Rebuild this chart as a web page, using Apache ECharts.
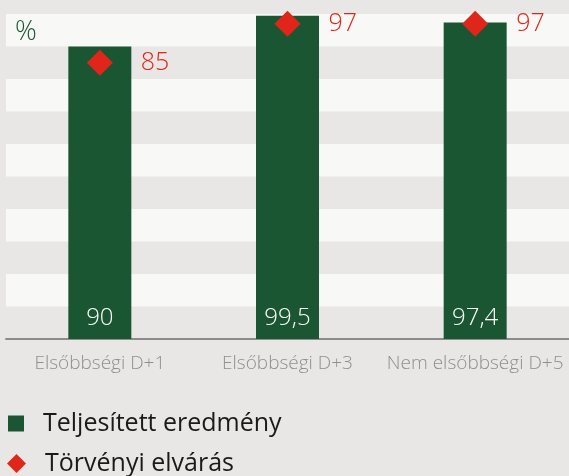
<!DOCTYPE html>
<html>
<head>
<meta charset="utf-8">
<script src="https://cdn.jsdelivr.net/npm/echarts@6/dist/echarts.min.js"></script>
<style>
  html, body { margin: 0; padding: 0; background: #e8e7e5; }
  #main { width: 569px; height: 476px; }
</style>
</head>
<body>
<div id="main"></div>
<script>
var categories = ['Elsőbbségi D+1', 'Elsőbbségi D+3', 'Nem elsőbbségi D+5'];
var teljesitett = [90, 99.5, 97.4];
var elvaras = [85, 97, 97];

var fnt = '"Open Sans", Lato, sans-serif';
var myChart = echarts.init(document.getElementById('main'));

var legendText = { color: '#1a1a1a', fontSize: 25, fontWeight: 400, fontFamily: fnt, padding: [0, 0, 0, 14] };

var option = {
    backgroundColor: '#e8e7e5',
    textStyle: { fontFamily: fnt },
    title: {
        text: '%',
        left: 10,
        top: 14,
        textStyle: { color: '#1b5632', fontSize: 27, fontWeight: 300, fontFamily: fnt }
    },
    legend: [
        {
            left: 3,
            top: 406,
            itemWidth: 16,
            itemHeight: 16,
            textStyle: legendText,
            data: [{ name: 'Teljesített eredmény', icon: 'rect' }]
        },
        {
            left: 2,
            top: 446,
            itemWidth: 19,
            itemHeight: 19,
            textStyle: legendText,
            data: [{ name: 'Törvényi elvárás', icon: 'diamond' }]
        }
    ],
    grid: { left: 6, right: 0, top: 14, bottom: 137 },
    xAxis: {
        type: 'category',
        data: categories,
        axisTick: { show: false },
        axisLine: { lineStyle: { color: '#8c8c8c', width: 2 } },
        axisLabel: { interval: 0, color: '#8f8f8f', fontSize: 19, fontWeight: 300, margin: 15, fontFamily: fnt }
    },
    yAxis: {
        type: 'value',
        min: 0,
        max: 100,
        interval: 10,
        axisLabel: { show: false },
        axisLine: { show: false },
        axisTick: { show: false },
        splitLine: { show: false },
        splitArea: { show: true, areaStyle: { color: ['#e8e7e5', '#f8f8f6'] } }
    },
    series: [
        {
            name: 'Teljesített eredmény',
            type: 'bar',
            barWidth: 63,
            data: teljesitett,
            itemStyle: { color: '#1b5632' },
            label: {
                show: true,
                position: 'insideBottom',
                distance: 9,
                color: '#ffffff',
                fontSize: 24,
                fontWeight: 300,
                fontFamily: fnt,
                formatter: function (p) { return String(p.value).replace('.', ','); }
            }
        },
        {
            name: 'Törvényi elvárás',
            type: 'scatter',
            symbol: 'diamond',
            symbolSize: 26,
            data: elvaras,
            itemStyle: { color: '#e0251b', opacity: 1 },
            label: {
                show: true,
                position: 'right',
                distance: 28,
                color: '#e0251b',
                fontSize: 25,
                fontWeight: 300,
                fontFamily: fnt
            }
        }
    ]
};

myChart.setOption(option);
</script>
</body>
</html>
